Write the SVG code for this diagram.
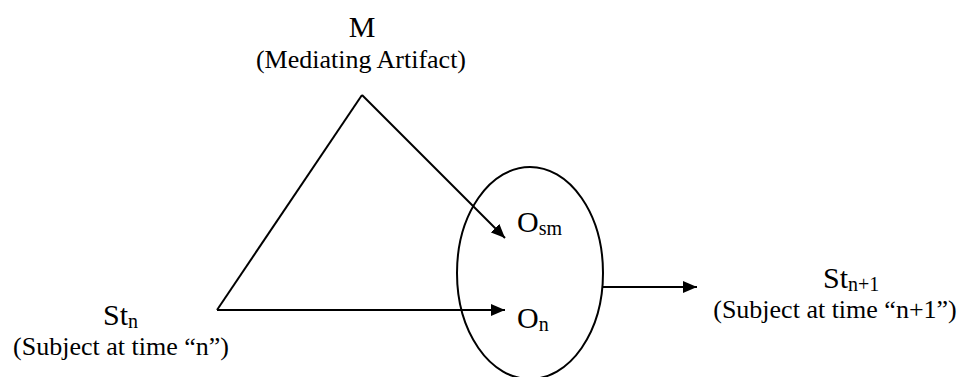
<svg xmlns="http://www.w3.org/2000/svg" width="968" height="377" viewBox="0 0 968 377">
<defs>
<style>
.lbl{font-family:"Liberation Serif","Times New Roman",serif;font-size:30px;fill:#000}
.sub{font-family:"Liberation Serif","Times New Roman",serif;font-size:26px;fill:#000}
.s{font-size:20px}
.ln{stroke:#000;stroke-width:2;fill:none}
</style>
<marker id="ah" markerWidth="14" markerHeight="12" refX="14" refY="6" orient="auto" markerUnits="userSpaceOnUse">
<path d="M0,0 L14,6 L0,12 Z" fill="#000"/>
</marker>
</defs>
<rect width="968" height="377" fill="#fff"/>
<g id="connectors">
<line class="ln" x1="362" y1="95" x2="217" y2="310"/>
<line class="ln" x1="362" y1="95" x2="505" y2="238" marker-end="url(#ah)"/>
<line class="ln" x1="217" y1="310" x2="505" y2="310" marker-end="url(#ah)"/>
<line class="ln" x1="603" y1="287" x2="697" y2="287" marker-end="url(#ah)"/>
</g>
<g id="node-object">
<ellipse class="ln" cx="530" cy="273" rx="73" ry="106"/>
<text class="lbl" x="517" y="232">O<tspan class="s" dy="3">sm</tspan></text>
<text class="lbl" x="517" y="328">O<tspan class="s" dy="3">n</tspan></text>
</g>
<g id="node-M">
<text class="lbl" x="362" y="37" text-anchor="middle">M</text>
<text class="sub" x="361" y="68" text-anchor="middle">(Mediating Artifact)</text>
</g>
<g id="node-Stn">
<text class="lbl" x="103" y="325">St<tspan class="s" dy="3">n</tspan></text>
<text class="sub" x="121" y="355" text-anchor="middle">(Subject at time “n”)</text>
</g>
<g id="node-Stn1">
<text class="lbl" x="823" y="288">St<tspan class="s" dy="3">n+1</tspan></text>
<text class="sub" x="835" y="318" text-anchor="middle">(Subject at time “n+1”)</text>
</g>
</svg>
